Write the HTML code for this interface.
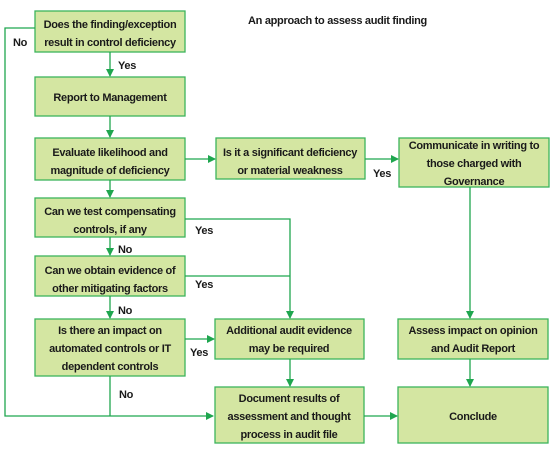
<!DOCTYPE html>
<html><head><meta charset="utf-8"><style>
html,body{margin:0;padding:0;background:#fff;}
svg text{font-family:"Liberation Sans Narrow","Liberation Sans",sans-serif;font-weight:bold;font-size:11px;letter-spacing:-0.3px;fill:#1a1a1a;}
</style></head><body>
<svg width="559" height="451" viewBox="0 0 559 451" xmlns="http://www.w3.org/2000/svg">
<defs><marker id="a" markerWidth="8" markerHeight="8" refX="7" refY="4" orient="auto" markerUnits="userSpaceOnUse"><path d="M0,0 L8,4 L0,8 Z" fill="#1fa64f"/></marker></defs>
<g fill="#d4e6a2" stroke="#3cb45c" stroke-width="1.3">
<rect x="35" y="11" width="150" height="41"/>
<rect x="35" y="77" width="150" height="39"/>
<rect x="35" y="138" width="150" height="42"/>
<rect x="216" y="138" width="149" height="41"/>
<rect x="399" y="138" width="150" height="49"/>
<rect x="35" y="198" width="150" height="39"/>
<rect x="35" y="256" width="150" height="40"/>
<rect x="35" y="319" width="150" height="57"/>
<rect x="215" y="319" width="149" height="40"/>
<rect x="398" y="319" width="150" height="40"/>
<rect x="215" y="387" width="149" height="56"/>
<rect x="398" y="387" width="150" height="56"/>
</g>
<g stroke="#1fa64f" stroke-width="1.3" fill="none">
<polyline points="35,28 5,28 5,416 213,416" marker-end="url(#a)"/>
<line x1="110" y1="52" x2="110" y2="76" marker-end="url(#a)"/>
<line x1="110" y1="116" x2="110" y2="137" marker-end="url(#a)"/>
<line x1="185" y1="159" x2="215" y2="159" marker-end="url(#a)"/>
<line x1="365" y1="159" x2="398" y2="159" marker-end="url(#a)"/>
<line x1="110" y1="180" x2="110" y2="197" marker-end="url(#a)"/>
<line x1="110" y1="237" x2="110" y2="255" marker-end="url(#a)"/>
<line x1="110" y1="296" x2="110" y2="318" marker-end="url(#a)"/>
<polyline points="185,219 290,219 290,318" marker-end="url(#a)"/>
<line x1="185" y1="276" x2="290" y2="276"/>
<line x1="185" y1="339" x2="214" y2="339" marker-end="url(#a)"/>
<line x1="110" y1="376" x2="110" y2="416"/>
<line x1="470" y1="187" x2="470" y2="318" marker-end="url(#a)"/>
<line x1="290" y1="359" x2="290" y2="386" marker-end="url(#a)"/>
<line x1="470" y1="359" x2="470" y2="386" marker-end="url(#a)"/>
<line x1="364" y1="416" x2="397" y2="416" marker-end="url(#a)"/>
</g>
<g text-anchor="middle">
<text x="110" y="28">Does the finding/exception</text>
<text x="110" y="46">result in control deficiency</text>
<text x="110" y="101">Report to Management</text>
<text x="110" y="156">Evaluate likelihood and</text>
<text x="110" y="174">magnitude of deficiency</text>
<text x="290" y="156">Is it a significant deficiency</text>
<text x="290" y="174">or material weakness</text>
<text x="474" y="149">Communicate in writing to</text>
<text x="474" y="167">those charged with</text>
<text x="474" y="185">Governance</text>
<text x="110" y="215">Can we test compensating</text>
<text x="110" y="233">controls, if any</text>
<text x="110" y="274">Can we obtain evidence of</text>
<text x="110" y="292">other mitigating factors</text>
<text x="110" y="334">Is there an impact on</text>
<text x="110" y="352">automated controls or IT</text>
<text x="110" y="370">dependent controls</text>
<text x="289" y="334">Additional audit evidence</text>
<text x="289" y="352">may be required</text>
<text x="473" y="334">Assess impact on opinion</text>
<text x="473" y="352">and Audit Report</text>
<text x="289" y="402">Document results of</text>
<text x="289" y="420">assessment and thought</text>
<text x="289" y="438">process in audit file</text>
<text x="473" y="420">Conclude</text>
</g>
<text x="248" y="24">An approach to assess audit finding</text>
<text x="13" y="46">No</text>
<text x="118" y="69">Yes</text>
<text x="373" y="177">Yes</text>
<text x="195" y="234">Yes</text>
<text x="118" y="253">No</text>
<text x="195" y="288">Yes</text>
<text x="118" y="314">No</text>
<text x="190" y="356">Yes</text>
<text x="119" y="398">No</text>
</svg>
</body></html>
